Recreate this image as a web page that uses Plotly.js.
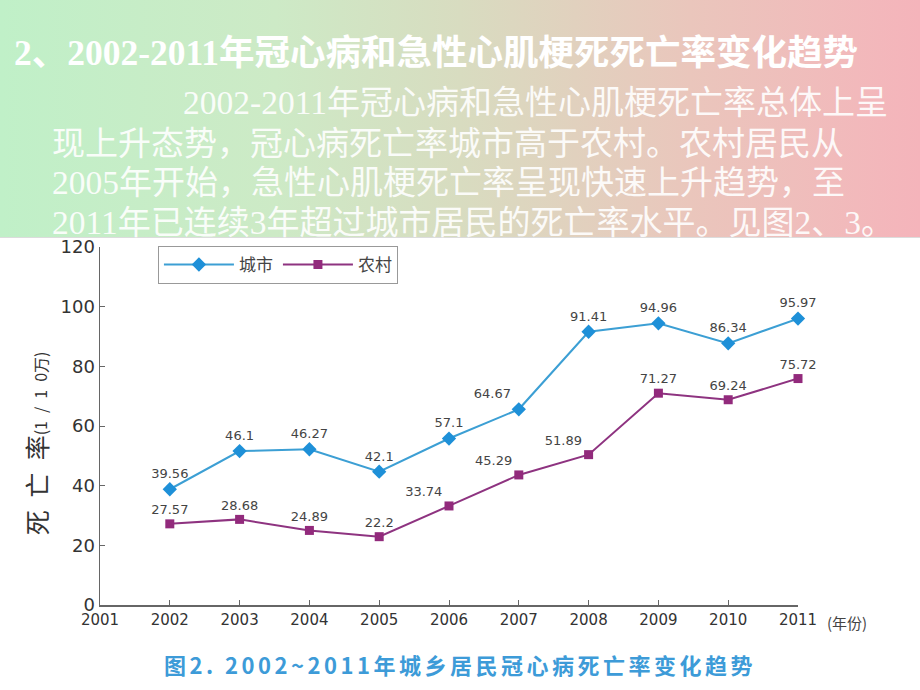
<!DOCTYPE html>
<html>
<head>
<meta charset="utf-8">
<script src="https://cdn.plot.ly/plotly-3.0.1.min.js"></script>
<style>
html,body{margin:0;padding:0;width:920px;height:690px;overflow:hidden;background:#ffffff;}
#bg{position:absolute;left:0;top:0;width:920px;height:237px;
 background:linear-gradient(to right,#c0f0c8 0%,#cdeac6 30%,#d8dcc0 50%,#eac6bc 75%,#f5b4bb 100%);
 border-bottom:1px solid #dcdcdc;}
#chart{position:absolute;left:0;top:0;width:920px;height:690px;}
.t{position:absolute;color:#ffffff;white-space:nowrap;font-family:"Liberation Serif","Noto Sans CJK SC",serif;}
#title{left:14px;top:24px;font-size:35.5px;font-weight:bold;}
.p{font-size:33px;opacity:0.9;}
.n{font-size:33.5px;}
#cap{position:absolute;left:164px;top:648px;white-space:nowrap;color:#3d9bd8;font-size:22px;font-weight:bold;
 letter-spacing:3.5px;font-family:"Noto Sans CJK SC",sans-serif;}
</style>
</head>
<body>
<div id="bg"></div>
<div id="chart"></div>
<div class="t" id="title">2、2002-2011年冠心病和急性心肌梗死死亡率变化趋势</div>
<div class="t p" style="left:183px;top:76px;"><span class="n">2002-2011</span>年冠心病和急性心肌梗死亡率总体上呈</div>
<div class="t p" style="left:52px;top:117px;">现上升态势，冠心病死亡率城市高于农村。农村居民从</div>
<div class="t p" style="left:52px;top:156px;"><span class="n">2005</span>年开始，急性心肌梗死亡率呈现快速上升趋势，至</div>
<div class="t p" style="left:52px;top:196px;"><span class="n">2011</span>年已连续<span class="n">3</span>年超过城市居民的死亡率水平。见图<span class="n">2</span>、<span class="n">3</span>。</div>
<div id="cap">图2. 2002~2011年城乡居民冠心病死亡率变化趋势</div>
<script>
// Data
var years = [2002, 2003, 2004, 2005, 2006, 2007, 2008, 2009, 2010, 2011];
// plotted positions
var urbanPlot = [38.8, 51.6, 52.2, 44.7, 55.8, 65.6, 91.6, 94.4, 87.7, 96.0];
var ruralPlot = [27.2, 28.7, 25.0, 22.9, 33.2, 43.6, 50.4, 71.0, 68.8, 75.9];
// printed data labels
var urbanLabels = ["39.56", "46.1", "46.27", "42.1", "57.1", "64.67", "91.41", "94.96", "86.34", "95.97"];
var ruralLabels = ["27.57", "28.68", "24.89", "22.2", "33.74", "45.29", "51.89", "71.27", "69.24", "75.72"];
var xTicks = [2001, 2002, 2003, 2004, 2005, 2006, 2007, 2008, 2009, 2010, 2011];
var yTicks = [0, 20, 40, 60, 80, 100, 120];
var seriesNames = ["城市", "农村"];

var urbanPos = ["top center","top center","top center","top center","top center","top left","top center","top center","top center","top center"];
var ruralPos = ["top center","top center","top center","top center","top left","top left","top left","top center","top center","top center"];

var labelFont = {family: "DejaVu Sans, sans-serif", size: 13, color: "#444444"};

var traces = [
  {x: years, y: urbanPlot, name: seriesNames[0], type: "scatter", mode: "lines+markers+text",
   text: urbanLabels, textposition: urbanPos, textfont: labelFont, cliponaxis: false,
   line: {color: "#3c9fd4", width: 2}, marker: {symbol: "diamond", size: 11, color: "#1e90d8"}},
  {x: years, y: ruralPlot, name: seriesNames[1], type: "scatter", mode: "lines+markers+text",
   text: ruralLabels, textposition: ruralPos, textfont: labelFont, cliponaxis: false,
   line: {color: "#8e3380", width: 2}, marker: {symbol: "square", size: 9, color: "#922a7c"}}
];

var layout = {
  width: 920, height: 690,
  margin: {l: 100, r: 122, t: 247, b: 85, pad: 0},
  paper_bgcolor: "rgba(0,0,0,0)", plot_bgcolor: "rgba(0,0,0,0)",
  showlegend: true,
  legend: {orientation: "h", x: 0.083, y: 1.003, xanchor: "left", yanchor: "top",
           itemwidth: 70, tracegroupgap: 0,
           bgcolor: "#ffffff", bordercolor: "#999999", borderwidth: 1,
           font: {family: "Noto Sans CJK SC, sans-serif", size: 17, color: "#444444"}},
  xaxis: {range: [2001, 2011], tickvals: xTicks, ticktext: xTicks.map(String),
          showgrid: false, zeroline: false, showline: true, linecolor: "#666666", linewidth: 1.5,
          ticks: "inside", ticklen: 5, tickcolor: "#666666",
          tickfont: {family: "DejaVu Sans, sans-serif", size: 15, color: "#333333"}},
  yaxis: {range: [0, 120], tickvals: yTicks, ticktext: yTicks.map(String),
          showgrid: false, zeroline: false, showline: true, linecolor: "#666666", linewidth: 1.5,
          ticks: "inside", ticklen: 5, tickcolor: "#666666",
          tickfont: {family: "DejaVu Sans, sans-serif", size: 18, color: "#333333"}},
  annotations: [
    {xref: "paper", yref: "paper", x: -0.097, y: 0.4525, xshift: -16, showarrow: false, textangle: -90,
     text: "死\u2002亡\u2002率<span style=\"font-size:16px\">(1\u2002/\u20021\u20020万)</span>",
     font: {family: "Noto Sans CJK SC, sans-serif", size: 25, color: "#333333"}},
    {xref: "paper", yref: "paper", x: 1.0387, y: -0.0475, xanchor: "left", yanchor: "middle", showarrow: false,
     text: "(年份)", font: {family: "Noto Sans CJK SC, sans-serif", size: 15, color: "#444444"}}
  ]
};

Plotly.newPlot("chart", traces, layout, {displayModeBar: false, staticPlot: true});
</script>
</body>
</html>
